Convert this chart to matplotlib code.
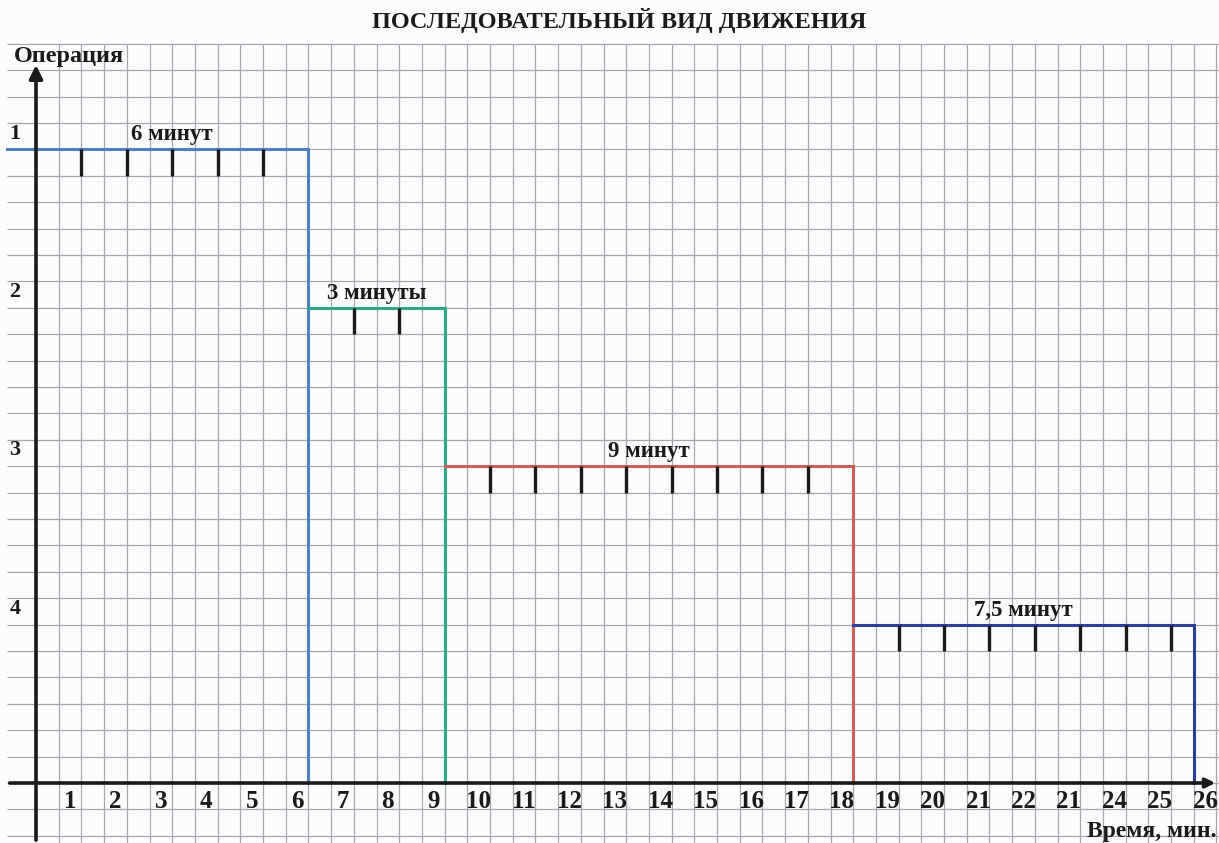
import matplotlib.pyplot as plt
import numpy as np

# sequential movement of a batch through 4 operations
operations = ["1", "2", "3", "4"]
durations = [6, 3, 9, 7.5]
duration_labels = ["6 минут", "3 минуты", "9 минут", "7,5 минут"]
time_labels = ["1", "2", "3", "4", "5", "6", "7", "8", "9", "10", "11", "12", "13",
               "14", "15", "16", "17", "18", "19", "20", "21", "22", "21", "24",
               "25", "26"]
line_colors = ["#4d7fc4", "#2fa88a", "#cc5f58", "#2c3f98"]

FONT = ["Liberation Serif", "DejaVu Serif"]
INK = "#1a1a1a"
ROW = 6  # grid rows between operation levels

starts = np.concatenate([[0], np.cumsum(durations)[:-1]])
ends = np.cumsum(durations)
levels = [(len(operations) - i) * ROW for i in range(len(operations))]

fig = plt.figure(figsize=(12.19, 8.43), dpi=100)
fig.patch.set_facecolor("#fbfcfe")
ax = fig.add_axes([0, 0, 1, 1])
ax.set_facecolor("#fbfcfe")
x_lo, x_hi = -36 / 45.4, 1183 / 45.4
y_lo, y_hi = -60 / 26.4, 783 / 26.4
ax.set_xlim(x_lo, x_hi)
ax.set_ylim(y_lo, y_hi)
ax.set_axis_off()

# graph paper
grid_left, grid_top = -0.64, 28
ax.vlines(np.arange(0.5, 26.01, 0.5), y_lo, grid_top, color="#a5a8ac", lw=0.9, zorder=1)
ax.hlines(np.arange(-2, grid_top + 1), grid_left, x_hi, color="#a5a8ac", lw=0.9, zorder=1)

# axes with arrows
ax.annotate("", xy=(0, 27.3), xytext=(0, y_lo), annotation_clip=False,
            arrowprops=dict(arrowstyle="-|>", lw=2.6, color=INK, mutation_scale=20),
            zorder=5)
ax.annotate("", xy=(x_hi - 0.02, 0), xytext=(grid_left, 0), annotation_clip=False,
            arrowprops=dict(arrowstyle="-|>", lw=2.6, color=INK, mutation_scale=14),
            zorder=5)

# step lines of each operation
for i in range(len(operations)):
    x0 = grid_left if i == 0 else starts[i]
    ax.plot([x0, ends[i], ends[i]], [levels[i], levels[i], 0],
            color=line_colors[i], lw=2.2, zorder=4, solid_joinstyle="miter")
    ticks = np.arange(starts[i] + 1, ends[i] - 0.01, 1)
    ax.vlines(ticks, levels[i] - 1, levels[i], color=INK, lw=2.4, zorder=4)
    ax.text((starts[i] + ends[i]) / 2, levels[i] + 0.15, duration_labels[i],
            ha="center", va="bottom", fontsize=16.5, fontweight="bold",
            family=FONT, color=INK, zorder=6)
    ax.text(-0.46, levels[i] + 0.6, operations[i], ha="center", va="center",
            fontsize=16, fontweight="bold", family=FONT, color=INK)

# time axis labels
for k, lab in enumerate(time_labels, start=1):
    ax.text(k - 0.25, -0.7, lab, ha="center", va="center", fontsize=18,
            fontweight="bold", family=FONT, color=INK)

ax.text(grid_left + 0.15, 27.5, "Операция", ha="left", va="center", fontsize=17.5,
        fontweight="bold", family=FONT, color=INK)
ax.text(26.0, -1.85, "Время, мин.", ha="right", va="center", fontsize=17,
        fontweight="bold", family=FONT, color=INK)
ax.text(12.85, 28.9, "ПОСЛЕДОВАТЕЛЬНЫЙ ВИД ДВИЖЕНИЯ", ha="center", va="center",
        fontsize=17.5, fontweight="bold", family=FONT, color=INK)

fig.savefig("out.png", dpi=100, facecolor=fig.get_facecolor())
plt.close(fig)
